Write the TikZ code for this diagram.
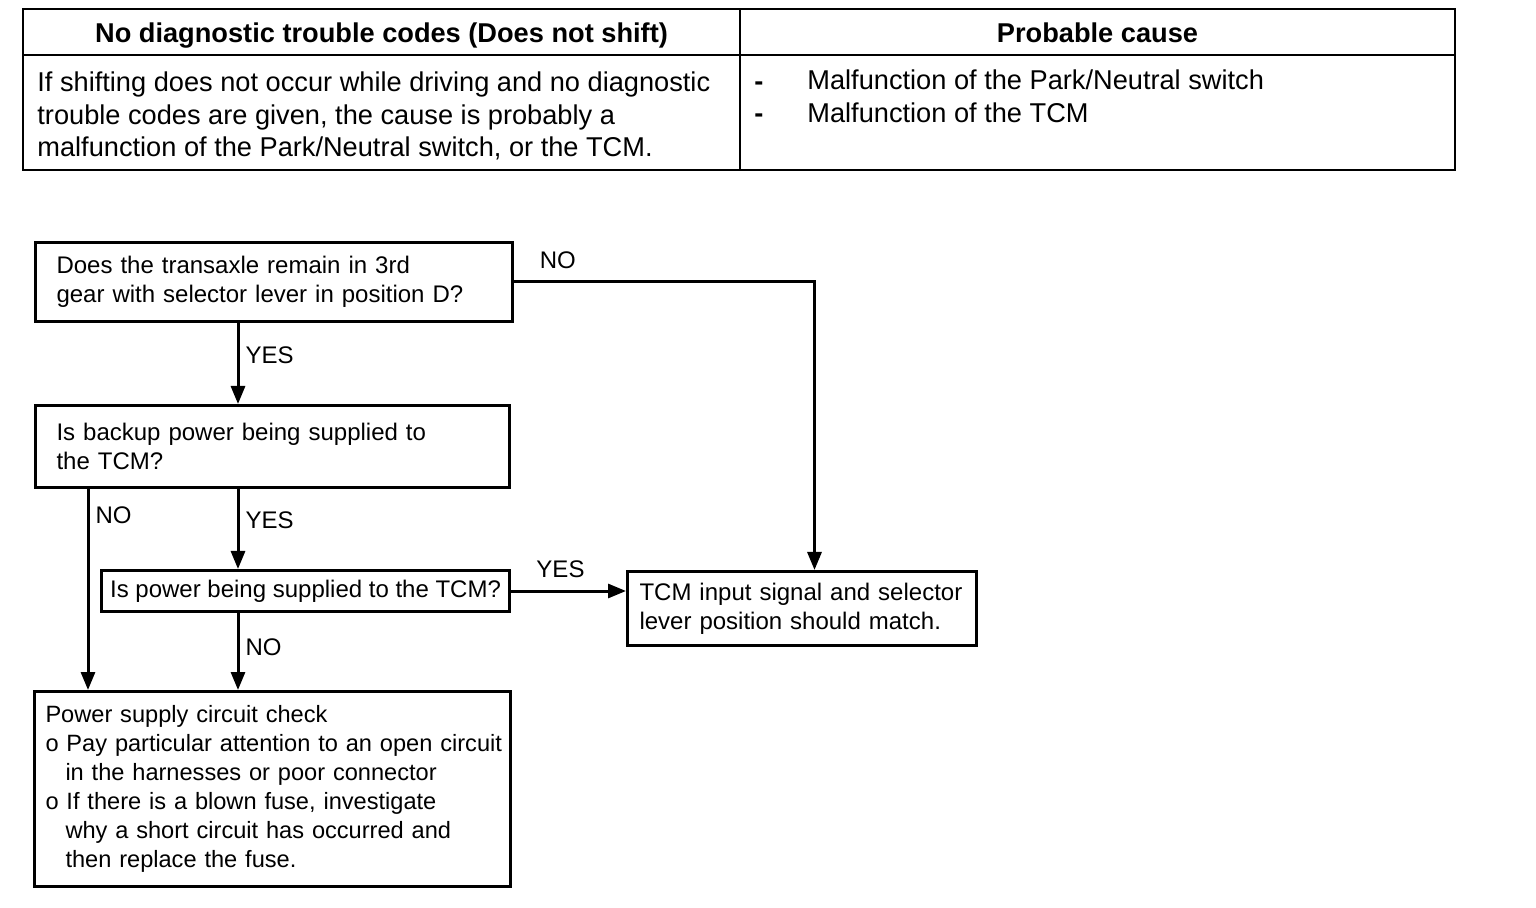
\documentclass[tikz,border=0pt]{standalone}
\usepackage{fontspec}
\setmainfont{Liberation Sans}
\usetikzlibrary{arrows.meta,positioning}

\begin{document}
\begin{tikzpicture}[x=0.5pt, y=-0.5pt,
    box/.style={draw, line width=1.5pt, rectangle, anchor=north west, align=left, inner ysep=0pt, font=\fontsize{12}{14.5}\selectfont},
    arr/.style={line width=1.5pt, -{Triangle[length=9pt, width=7pt]}},
    lbl/.style={font=\fontsize{12}{14.5}\selectfont, inner sep=3pt},
    cell/.style={font=\fontsize{13.6}{16.3}\selectfont, inner sep=0pt, align=left},
    head/.style={font=\fontsize{13.6}{16.3}\selectfont\bfseries, inner sep=0pt, anchor=base},
    tbl/.style={line width=1.3pt}
]
    \useasboundingbox (0,0) rectangle (1536,908);

    % Table at the top
    \draw[tbl] (23,9) rectangle (1455,170);
    \draw[tbl] (23,55) -- (1455,55);
    \draw[tbl] (740,9) -- (740,170);
    \node[head] (head1) at (381.5,43) {No diagnostic trouble codes (Does not shift)};
    \node[head] (head2) at (1097.5,43) {Probable cause};
    \node[cell, anchor=west] (desc) at (37,116) {If shifting does not occur while driving and no diagnostic \\ trouble codes are given, the cause is probably a \\ malfunction of the Park/Neutral switch, or the TCM.};
    \node[cell, anchor=west, font=\fontsize{13.6}{16.3}\selectfont\bfseries] (dash) at (754,102) {- \\ -};
    \node[cell, anchor=west] (cause) at (807,96) {Malfunction of the Park/Neutral switch \\ Malfunction of the TCM};

    % Columns of the vertical arrows
    \coordinate (colA) at (238,0);
    \coordinate (colB) at (88,0);

    % Boxes of the flowchart
    \node[box, text width=217.5pt, inner xsep=10.5pt, minimum height=39.5pt] (q1) at (34,241) {Does the transaxle remain in 3rd \\ gear with selector lever in position D?};
    \node[box, text width=216pt, inner xsep=10.5pt, minimum height=41pt] (q2) at (34,404) {Is backup power being supplied to \\ the TCM?};
    \node[box, inner xsep=4.3pt, minimum height=20.5pt] (q3) at (100,569) {Is power being supplied to the TCM?};
    \node[box, text width=162.5pt, inner xsep=6pt, minimum height=37pt] (res) at (626,570) {TCM input signal and selector \\ lever position should match.};
    \node[box, font=\fontsize{11.8}{14.5}\selectfont, text width=227pt, inner xsep=5.5pt, minimum height=97.5pt] (chk) at (33,690) {Power supply circuit check \\ \mbox{o Pay particular attention to an open circuit} \\ \hspace*{10pt}in the harnesses or poor connector \\ o If there is a blown fuse, investigate \\ \hspace*{10pt}why a short circuit has occurred and \\ \hspace*{10pt}then replace the fuse.};

    % Arrows with YES/NO labels
    \draw[arr] (q1.south -| colA) -- node[lbl, right, pos=0.4] (yes1) {YES} (q2.north -| colA);
    \draw[arr] (q1.east) -| node[lbl, above, pos=0.073, yshift=3pt] (no1) {NO} ([xshift=6.25pt]res.north);
    \draw[arr] (q2.south -| colA) -- node[lbl, right, pos=0.39] (yes2) {YES} (q3.north -| colA);
    \draw[arr] (q2.south -| colB) -- node[lbl, right, pos=0.13] (no2) {NO} (chk.north -| colB);
    \draw[arr] (q3.east) -- node[lbl, above, pos=0.43, yshift=3pt] (yes3) {YES} (q3.east -| res.west);
    \draw[arr] (q3.south -| colA) -- node[lbl, right, pos=0.45] (no3) {NO} (chk.north -| colA);
\end{tikzpicture}
\end{document}
